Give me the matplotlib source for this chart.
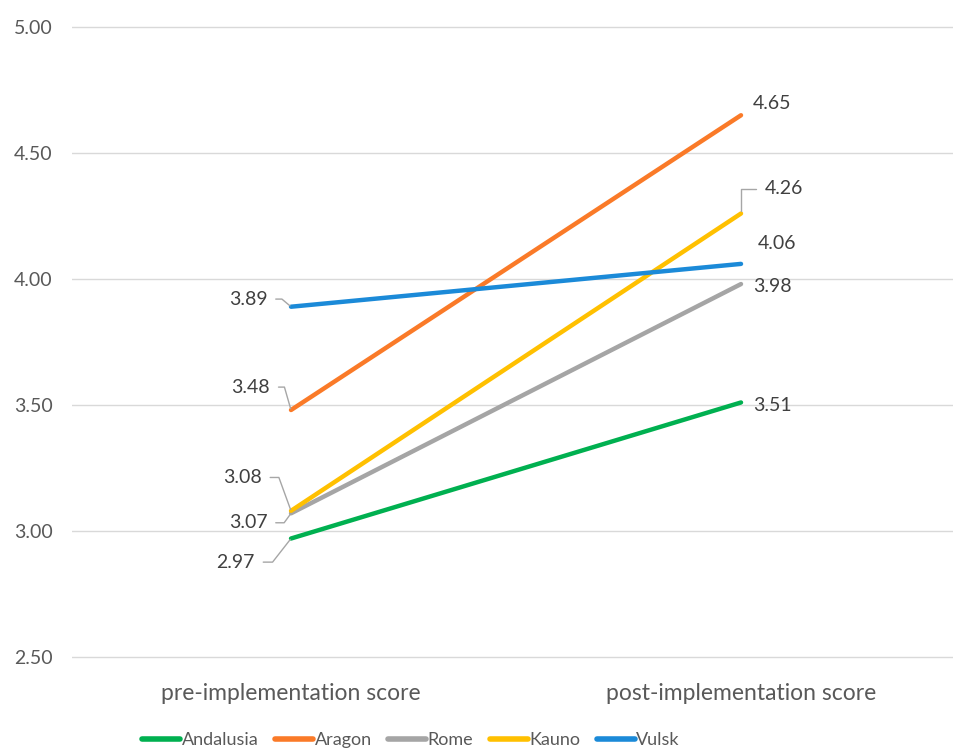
import matplotlib.pyplot as plt

plt.rcParams['font.family'] = ['Lato', 'DejaVu Sans']

categories = ["pre-implementation score", "post-implementation score"]
regions = ["Andalusia", "Aragon", "Rome", "Kauno", "Vulsk"]
pre_scores = [2.97, 3.48, 3.07, 3.08, 3.89]
post_scores = [3.51, 4.65, 3.98, 4.26, 4.06]
colors = ["#00B050", "#FA7A28", "#A5A5A5", "#FFC000", "#1B8AD8"]
yticks = [2.5, 3.0, 3.5, 4.0, 4.5, 5.0]

fig = plt.figure(figsize=(9.54, 7.49), dpi=100)
ax = fig.add_axes([72 / 954, 84 / 749, 882 / 954, 645 / 749])

x = [0, 1]
for name, a, b, c in zip(regions, pre_scores, post_scores, colors):
    ax.plot(x, [a, b], color=c, linewidth=3.2, solid_capstyle="round", label=name, zorder=3)

ax.set_xlim(-0.4867, 1.4733)
ax.set_ylim(2.468, 5.028)
ax.set_yticks(yticks)
ax.set_yticklabels([f"{v:.2f}" for v in yticks])
ax.set_xticks(x)
ax.set_xticklabels(categories)
ax.grid(axis="y", color="#D9D9D9", linewidth=1.0)
ax.set_axisbelow(True)
for s in ax.spines.values():
    s.set_visible(False)
ax.tick_params(axis="y", length=0, pad=14, labelsize=14, labelcolor="#595959")
ax.tick_params(axis="x", length=0, pad=13, labelsize=16.5, labelcolor="#595959")

lbl = dict(fontsize=14, color="#404040", va="center")
lead = dict(color="#A6A6A6", linewidth=1.0)

# left labels: (dx, dy in points, angle of the leader's slanted part)
pre_layout = {
    "Vulsk": (-17, 5.5, 140),
    "Aragon": (-15, 16.5, 106),
    "Kauno": (-21, 24, 110),
    "Rome": (-17, -6.8, 54),
    "Andalusia": (-26, -17, 52),
}
for name, v in zip(regions, pre_scores):
    dx, dy, ang = pre_layout[name]
    ax.annotate(f"{v:.2f}", xy=(0, v), xytext=(dx, dy), textcoords="offset points",
                ha="right", **lbl,
                arrowprops=dict(arrowstyle="-", shrinkA=4, shrinkB=1,
                                connectionstyle=f"angle,angleA=0,angleB={ang},rad=0", **lead))

# right labels
post_layout = {
    "Andalusia": (8.6, -2),
    "Aragon": (8.6, 8.6),
    "Rome": (8.6, -2),
    "Kauno": (17, 18),
    "Vulsk": (12, 15),
}
for name, v in zip(regions, post_scores):
    dx, dy = post_layout[name]
    if name == "Kauno":
        ax.annotate(f"{v:.2f}", xy=(1, v), xytext=(dx, dy), textcoords="offset points",
                    ha="left", **lbl,
                    arrowprops=dict(arrowstyle="-", shrinkA=4, shrinkB=2,
                                    connectionstyle="angle,angleA=0,angleB=90,rad=0", **lead))
    else:
        ax.annotate(f"{v:.2f}", xy=(1, v), xytext=(dx, dy), textcoords="offset points",
                    ha="left", **lbl)

leg = fig.legend(loc="center", bbox_to_anchor=(411 / 954, 1 - 740 / 749), ncol=5,
                 frameon=False, fontsize=13, handlelength=2.1, handletextpad=0.1,
                 columnspacing=0.9, labelcolor="#595959")
for h in leg.get_lines():
    h.set_linewidth(4)

fig.savefig("out.png", dpi=100)
